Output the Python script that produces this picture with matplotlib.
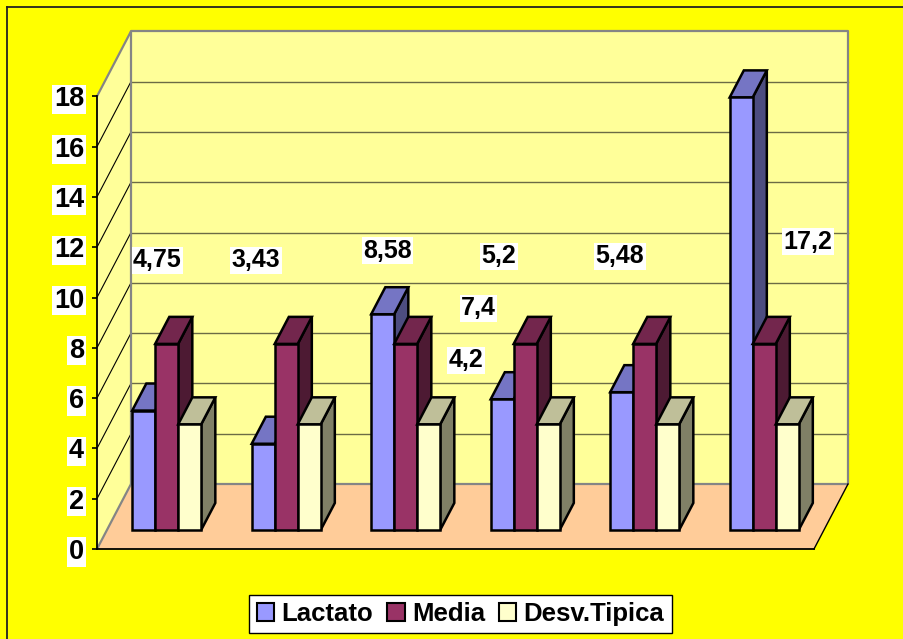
import matplotlib
matplotlib.use("Agg")
import matplotlib.pyplot as plt
from matplotlib.patches import Polygon, Patch
from matplotlib.lines import Line2D

# ---- data -------------------------------------------------------------
series_names = ["Lactato", "Media", "Desv.Tipica"]
lactato = [4.75, 3.43, 8.58, 5.2, 5.48, 17.2]
media = [7.4, 7.4, 7.4, 7.4, 7.4, 7.4]
desv_tipica = [4.2, 4.2, 4.2, 4.2, 4.2, 4.2]
y_ticks = [0, 2, 4, 6, 8, 10, 12, 14, 16, 18]

# value labels: (series index, category index) and where each label sits
label_items = [(0, 0), (0, 1), (0, 2), (0, 3), (0, 4), (0, 5), (1, 3), (2, 3)]
label_pos = [(0.506, 11.49), (1.331, 11.49), (2.431, 11.85), (3.364, 11.65),
             (4.377, 11.65), (5.950, 12.21), (3.192, 9.58), (3.088, 7.51)]

# ---- style ------------------------------------------------------------
front_colors = ["#9999FF", "#993366", "#FFFFCC"]
top_colors = ["#7575C4", "#73264D", "#BFBF99"]
side_colors = ["#4D4D80", "#4D1A33", "#808066"]
wall_color = "#FFFF99"
floor_color = "#FFCC99"
frame_gray = "#858585"
grid_color = "#6b6b45"

plt.rcParams["font.family"] = ["Liberation Sans", "DejaVu Sans"]
plt.rcParams["font.weight"] = "bold"

W, H = 904, 639
fig = plt.figure(figsize=(W / 100, H / 100), dpi=100)
fig.patch.set_facecolor("#FFFF00")
ax = fig.add_axes([0, 0, 1, 1])
ax.set_facecolor("none")

# pixel scale of one category / one value unit, origin at front-left floor corner
PX, PY = 119.5, 25.15
OX, OY = 97, 549
ax.set_xlim(-OX / PX, (W - OX) / PX)
ax.set_ylim(-(H - OY) / PY, OY / PY)

DX, DY = 34 / PX, 65 / PY      # full depth of the plot box
f0, f1 = 0.292, 0.708          # bar front / back depth fractions
n = len(lactato)
ymax = y_ticks[-1]

# ---- walls and floor ----------------------------------------------------
ax.add_patch(Polygon([(DX, DY), (n + DX, DY), (n + DX, ymax + DY), (DX, ymax + DY)],
                     closed=True, fc=wall_color, ec="none", zorder=0.5))
ax.add_patch(Polygon([(0, 0), (DX, DY), (DX, ymax + DY), (0, ymax)],
                     closed=True, fc=wall_color, ec="none", zorder=0.5))
ax.add_patch(Polygon([(0, 0), (n, 0), (n + DX, DY), (DX, DY)],
                     closed=True, fc=floor_color, ec="none", zorder=0.5))

for v in y_ticks[1:-1]:
    ax.plot([DX, n + DX], [v + DY, v + DY], color=grid_color, lw=1.0, zorder=0.8)
    ax.plot([0, DX], [v, v + DY], color="black", lw=0.8, zorder=0.8)

gray_kw = dict(color=frame_gray, lw=1.6, zorder=0.9, solid_capstyle="butt")
ax.plot([DX, n + DX, n + DX, DX, DX], [DY, DY, ymax + DY, ymax + DY, DY], **gray_kw)
ax.plot([0, DX], [ymax, ymax + DY], **gray_kw)
ax.plot([0, DX], [0, DY], **gray_kw)
ax.plot([n, n + DX], [0, DY], color="black", lw=1.0, zorder=0.9)

# ---- axes ----------------------------------------------------------------
for s in ("top", "right"):
    ax.spines[s].set_visible(False)
ax.spines["left"].set_position(("data", 0))
ax.spines["left"].set_bounds(0, ymax)
ax.spines["left"].set_linewidth(1.3)
ax.spines["bottom"].set_position(("data", 0))
ax.spines["bottom"].set_bounds(0, n)
ax.spines["bottom"].set_linewidth(1.3)
ax.set_xticks([])
ax.set_yticks(y_ticks)
ax.tick_params(axis="y", direction="out", length=3.8, width=1.2, pad=5.5,
               labelsize=19.5)
for lab in ax.get_yticklabels():
    lab.set_fontweight("bold")
    lab.set_bbox(dict(boxstyle="square,pad=0.06", fc="white", ec="none"))

# ---- bars ---------------------------------------------------------------
w = 23 / PX
dd = f1 - f0
all_series = [lactato, media, desv_tipica]
x_center = [i + 0.5 for i in range(n)]
for j, vals in enumerate(all_series):
    lefts = [xc - 1.5 * w + j * w + f0 * DX for xc in x_center]
    base = f0 * DY
    z = 10 + 3 * j
    for x0, v in zip(lefts, vals):
        top = [(x0, base + v), (x0 + w, base + v),
               (x0 + w + dd * DX, base + v + dd * DY), (x0 + dd * DX, base + v + dd * DY)]
        side = [(x0 + w, base), (x0 + w + dd * DX, base + dd * DY),
                (x0 + w + dd * DX, base + v + dd * DY), (x0 + w, base + v)]
        ax.add_patch(Polygon(side, closed=True, fc=side_colors[j], ec="black",
                             lw=1.8, joinstyle="miter", zorder=z - 0.5))
        ax.add_patch(Polygon(top, closed=True, fc=top_colors[j], ec="black",
                             lw=1.8, joinstyle="miter", zorder=z - 0.5))
    ax.bar(lefts, vals, width=w, bottom=base, align="edge", color=front_colors[j],
           edgecolor="black", linewidth=1.8, zorder=z)

# ---- value labels --------------------------------------------------------
for (j, i), (lx, ly) in zip(label_items, label_pos):
    txt = f"{all_series[j][i]:g}".replace(".", ",")
    ax.text(lx, ly, txt, ha="center", va="center", fontsize=18, fontweight="bold",
            zorder=30, bbox=dict(boxstyle="square,pad=0.06", fc="white", ec="none"))

# ---- legend ---------------------------------------------------------------
handles = [Patch(fc=c, ec="black", lw=1.5) for c in front_colors]
leg = ax.legend(handles, series_names, loc="center",
                bbox_to_anchor=(460.5 / W, 1 - 614 / H), bbox_transform=fig.transFigure,
                ncol=3, frameon=True, fancybox=False, framealpha=1, edgecolor="black",
                prop=dict(size=18.5, weight="bold"), handlelength=0.68,
                handleheight=0.68, handletextpad=0.28, columnspacing=0.55,
                borderpad=0.28, borderaxespad=0)
leg.get_frame().set_linewidth(1.0)
leg.set_zorder(40)

# ---- chart-area frame -----------------------------------------------------
fig.add_artist(Line2D([7 / W, 7 / W], [0, 1 - 7 / H], transform=fig.transFigure,
                      color="#222222", lw=1.3))
fig.add_artist(Line2D([7 / W, 1], [1 - 7 / H, 1 - 7 / H], transform=fig.transFigure,
                      color="#222222", lw=1.3))

fig.savefig("out.png", dpi=100, facecolor=fig.get_facecolor())
